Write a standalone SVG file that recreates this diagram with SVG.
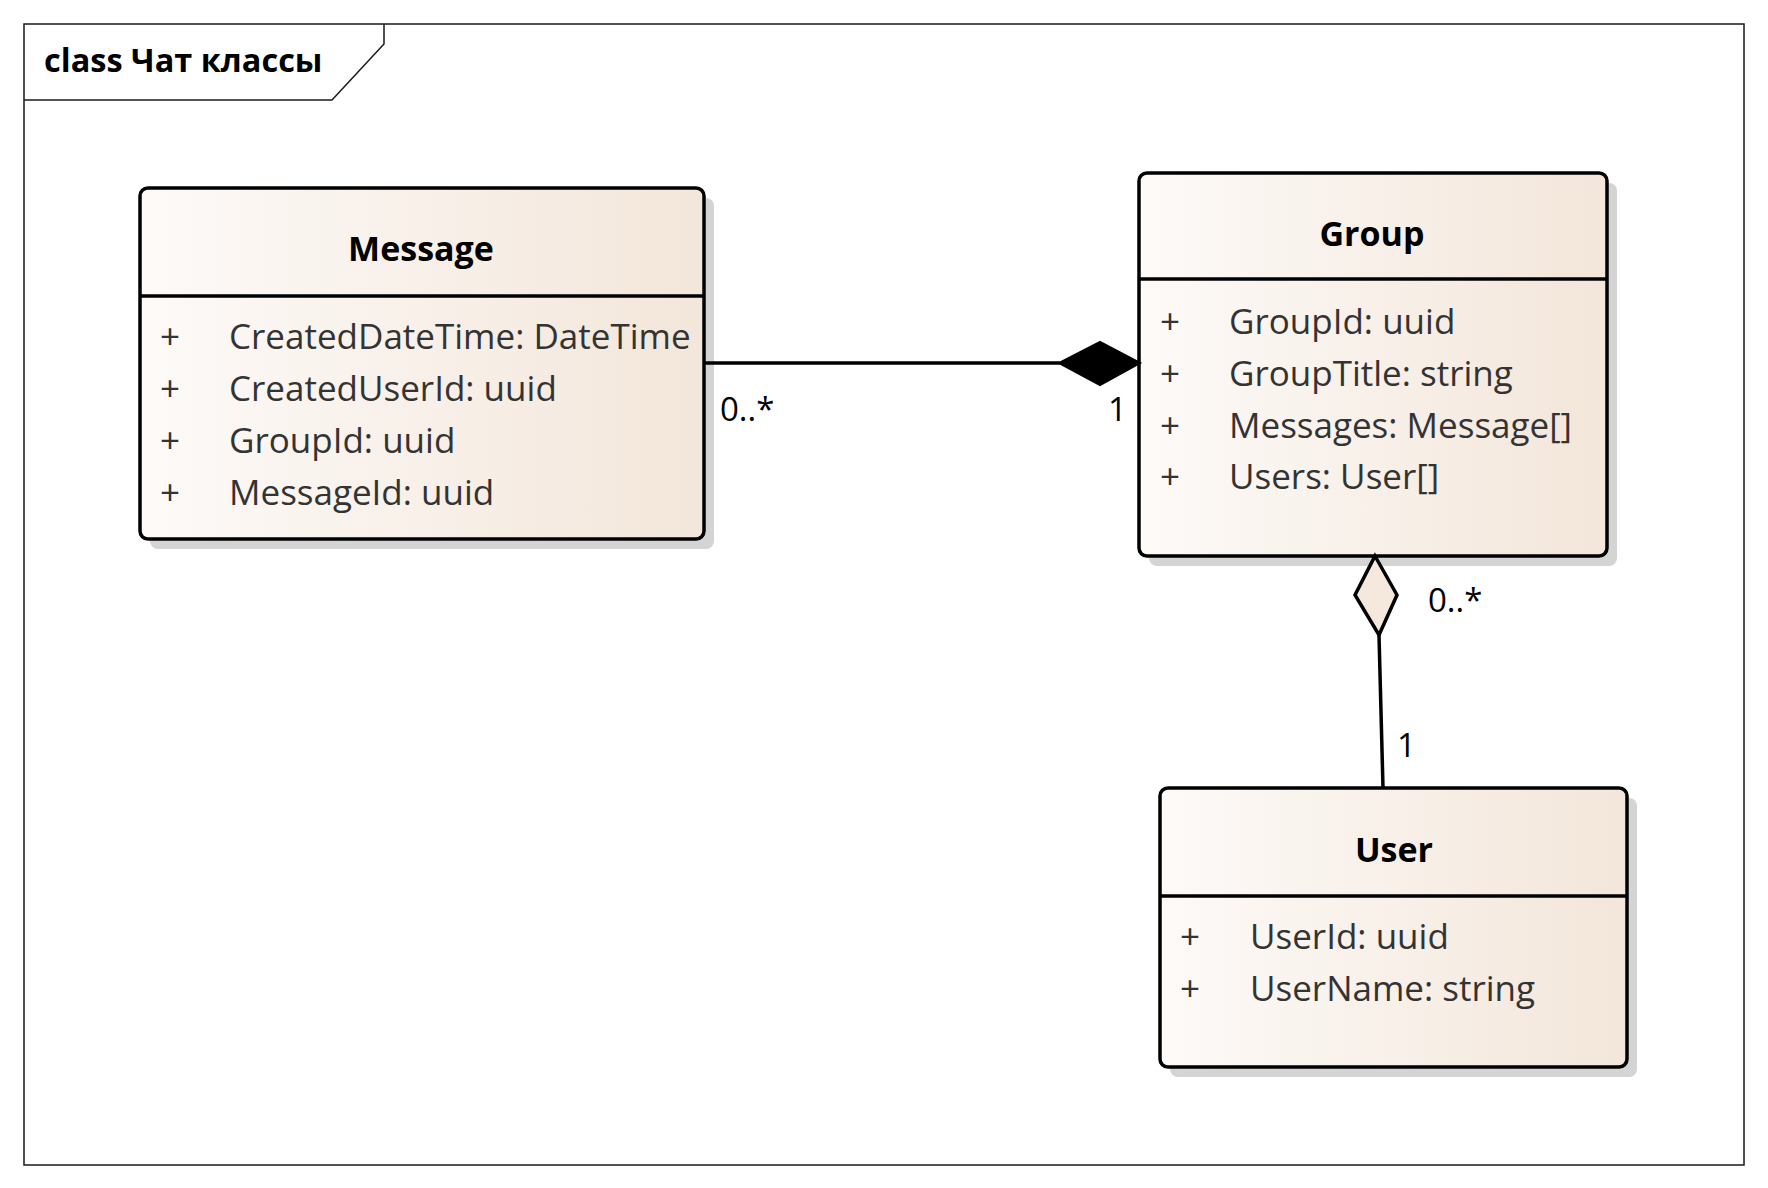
<svg xmlns="http://www.w3.org/2000/svg" width="1768" height="1188" viewBox="0 0 1768 1188">
<defs>
<linearGradient id="cls" x1="0" y1="0" x2="1" y2="0">
<stop offset="0" stop-color="#fdfaf8"/>
<stop offset="1" stop-color="#f3e6da"/>
</linearGradient>
<style>
.frame{fill:none;stroke:#1a1a1a;stroke-width:1.5}
.shadow{fill:#d4d4d4}
.box{fill:url(#cls);stroke:#000;stroke-width:3.5}
.div{stroke:#000;stroke-width:3.5}
.name{font-family:"Open Sans","Liberation Sans",sans-serif;font-weight:bold;font-size:34px;fill:#000;text-anchor:middle}
.attr{font-family:"Open Sans","Liberation Sans",sans-serif;font-size:35px;fill:#333}
.lbl{font-family:"Open Sans","Liberation Sans",sans-serif;font-size:33px;fill:#000}
.edge{fill:none;stroke:#000;stroke-width:3.5}
</style>
</defs>
<rect width="1768" height="1188" fill="#fff"/>
<g id="frame">
<rect class="frame" x="24" y="24" width="1720" height="1141"/>
<path class="frame" d="M24,100 H332 L384,44 V24"/>
<text x="44" y="72" font-family="'Open Sans','Liberation Sans',sans-serif" font-weight="bold" font-size="32.5" fill="#000">class Чат классы</text>
</g>
<g id="Message">
<rect class="shadow" x="150" y="198" width="564" height="351" rx="8"/>
<rect class="box" x="140" y="188" width="564" height="351" rx="8"/>
<line class="div" x1="140" y1="296" x2="704" y2="296"/>
<text class="name" x="421" y="261">Message</text>
<text class="attr" x="160" y="349">+</text><text class="attr" x="229" y="349">CreatedDateTime: DateTime</text>
<text class="attr" x="160" y="401">+</text><text class="attr" x="229" y="401">CreatedUserId: uuid</text>
<text class="attr" x="160" y="453">+</text><text class="attr" x="229" y="453">GroupId: uuid</text>
<text class="attr" x="160" y="505">+</text><text class="attr" x="229" y="505">MessageId: uuid</text>
</g>
<g id="Group">
<rect class="shadow" x="1149" y="183" width="468" height="383" rx="8"/>
<rect class="box" x="1139" y="173" width="468" height="383" rx="8"/>
<line class="div" x1="1139" y1="279" x2="1607" y2="279"/>
<text class="name" x="1372" y="246">Group</text>
<text class="attr" x="1160" y="334">+</text><text class="attr" x="1229" y="334">GroupId: uuid</text>
<text class="attr" x="1160" y="386">+</text><text class="attr" x="1229" y="386">GroupTitle: string</text>
<text class="attr" x="1160" y="438">+</text><text class="attr" x="1229" y="438">Messages: Message[]</text>
<text class="attr" x="1160" y="489">+</text><text class="attr" x="1229" y="489">Users: User[]</text>
</g>
<g id="User">
<rect class="shadow" x="1170" y="798" width="467" height="279" rx="8"/>
<rect class="box" x="1160" y="788" width="467" height="279" rx="8"/>
<line class="div" x1="1160" y1="896" x2="1627" y2="896"/>
<text class="name" x="1394" y="862">User</text>
<text class="attr" x="1180" y="949">+</text><text class="attr" x="1250" y="949">UserId: uuid</text>
<text class="attr" x="1180" y="1001">+</text><text class="attr" x="1250" y="1001">UserName: string</text>
</g>
<g id="connectors">
<line class="edge" x1="704" y1="363" x2="1060" y2="363"/>
<polygon points="1140,363 1100,342 1059,363 1100,385" fill="#000" stroke="#000" stroke-width="2"/>
<text class="lbl" x="720" y="421">0..*</text>
<text class="lbl" x="1108" y="421">1</text>
<line class="edge" x1="1379" y1="635" x2="1383" y2="788"/>
<polygon points="1375,556 1397,595 1379,635 1355,595" fill="#f5e8dc" stroke="#000" stroke-width="3.5" stroke-linejoin="miter"/>
<text class="lbl" x="1428" y="612">0..*</text>
<text class="lbl" x="1397" y="757">1</text>
</g>
</svg>
